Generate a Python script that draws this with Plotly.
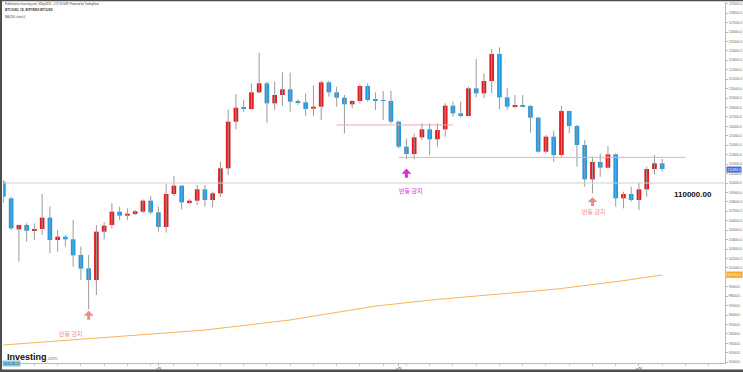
import plotly.graph_objects as go
import pandas as pd

# ---------------- data (daily BTC/USD candles) ----------------
start_date = "2025-06-11"
n_days = 86
dates = pd.date_range(start_date, periods=n_days, freq="D")

opens = [110141, 108375, 105089, 105548, 104947, 105124, 106325, 103958, 104312, 104029,
         102368, 100955, 99718, 104842, 105548, 106962, 106538, 106715, 106962, 108127,
         106891, 105336, 108834, 109717, 107951, 108127, 109329, 108198, 108905, 111555,
         116501, 117985, 117844, 119611, 120565, 118445, 119328, 119929, 118692, 118551,
         117879, 118091, 120671, 119611, 119045, 118339, 118692, 120282, 118869, 118798,
         118692, 116501, 113851, 113074, 114840, 115689, 114629, 115689, 118197, 117385,
         117102, 120035, 119505, 120812, 123674, 119081, 118091, 118233, 118162, 116925,
         113321, 114911, 112968, 117632, 116042, 114028, 110389, 112226, 111625, 113039,
         108375, 108834, 108198, 109329, 111484, 112085]
closes = [108551, 105195, 105548, 104947, 105124, 106325, 103958, 104312, 104029, 102333,
          100920, 99718, 104842, 105478, 106962, 106538, 106750, 106997, 108127, 106891,
          105336, 108834, 109717, 107951, 108127, 109329, 108198, 108905, 111555, 116501,
          117985, 117879, 119611, 120565, 118445, 119328, 119929, 118622, 118551, 117844,
          118091, 120671, 119611, 119045, 118339, 118692, 120282, 118798, 118763, 118692,
          116501, 113851, 113074, 114840, 115689, 114629, 115618, 118197, 117385, 117102,
          120035, 119505, 120812, 123674, 119081, 118091, 118233, 118127, 116925, 113321,
          114911, 112968, 117632, 116042, 114028, 110389, 112226, 111625, 113039, 108375,
          108834, 108198, 109329, 111484, 112085, 111484]
highs = [110318, 108551, 105600, 105725, 105725, 108834, 107491, 105018, 104488, 106078,
         103251, 102368, 105548, 105831, 107845, 107491, 107315, 107138, 108268, 108622,
         107491, 109894, 110742, 109788, 108268, 109788, 109788, 109081, 112261, 117809,
         119434, 118798, 120565, 123815, 120741, 120741, 121731, 121695, 118869, 119505,
         120353, 120847, 120847, 120211, 119328, 118798, 120459, 120565, 119611, 119752,
         119787, 116607, 114699, 115265, 116325, 116325, 116325, 118445, 118622, 118622,
         120211, 123144, 121625, 124204, 124381, 120035, 119328, 119328, 118268, 117031,
         115088, 115547, 118162, 117667, 116148, 114558, 112791, 113145, 113922, 113145,
         109081, 109611, 110035, 111731, 112968, 112544]
lows = [107880, 105018, 101661, 103782, 103958, 104488, 102545, 102722, 103251, 101132,
        99718, 96609, 98128, 104029, 105195, 106078, 106078, 106609, 106785, 106679,
        104842, 104735, 108622, 107209, 107774, 107668, 107491, 107421, 108551, 110848,
        115689, 117561, 117738, 119505, 116395, 117738, 118162, 117561, 118268, 117102,
        117102, 116678, 119151, 118091, 115265, 117915, 118445, 118622, 117738, 116678,
        116325, 113675, 112509, 112509, 114558, 112968, 113851, 114911, 117031, 116961,
        117031, 119081, 118975, 119505, 117809, 117738, 117915, 118091, 115335, 113215,
        113145, 112261, 112791, 115265, 111731, 109611, 108905, 110671, 111555, 107491,
        107315, 108021, 107138, 108551, 110919, 111201]
ma200 = [92830, 92890, 92950, 93010, 93070, 93130, 93190, 93250, 93310, 93370, 93430, 93500, 93570,
         93630, 93690, 93740, 93800, 93860, 93910, 93970, 94030, 94080, 94140, 94200, 94250, 94310,
         94410, 94510, 94600, 94700, 94800, 94890, 94990, 95090, 95190, 95280, 95380, 95480,
         95620, 95760, 95890, 96030, 96170, 96310, 96440, 96580, 96720, 96860,
         96950, 97040, 97140, 97230, 97320, 97410, 97500, 97600,
         97670, 97730, 97800, 97860, 97930, 97990, 98060, 98120, 98190, 98250, 98320, 98380, 98450,
         98540, 98640, 98730, 98820, 98920, 99010, 99110, 99200, 99290,
         99410, 99530, 99650, 99770, 99890, 100010, 100130, 100250]

key_level = 110000
resist_1 = 116150
resist_1_span = ("2025-07-24", "2025-08-08")
resist_2 = 112720
resist_2_span = ("2025-08-01", "2025-09-07")

signal_label = "반등 감지"
signals = [  # (date, arrow tip price, colour)
    ("2025-06-22", 96450, "#ef8a8a"),
    ("2025-08-02", 111500, "#e626e6"),
    ("2025-08-26", 108500, "#ef8a8a"),
]
tick_dates = ["2025-07-01", "2025-08-01", "2025-09-01"]
tick_text = ["7월", "8월", "9월"]

header_lines = [
    "Published on Investing.com, 5/Sep/2025 - 2:27:43 GMT, Powered by TradingView.",
    "<b>BTC/USD, 1D, BITFINEX:BTCUSD</b>",
    "MA (200, close) 0",
]

# ---------------- figure ----------------
UP, DOWN, WICK = "#e3191c", "#1f9be6", "#9b9b9b"
W, H = 743, 372
ML, MR, MT, MB = 3, 18, 2, 9
PW, PH = W - ML - MR, H - MT - MB


def px_x(px):
    return (px - ML) / PW


def px_y(py):
    return (H - MB - py) / PH


day = pd.Timedelta(days=1)
body_base = [min(o, c) for o, c in zip(opens, closes)]
body_h = [max(abs(c - o), 60) for o, c in zip(opens, closes)]
body_col = [UP if c >= o else DOWN for o, c in zip(opens, closes)]

wx, wy = [], []
for d, hi, lo in zip(dates, highs, lows):
    wx += [d, d, None]
    wy += [lo, hi, None]

fig = go.Figure()
fig.add_trace(go.Scatter(x=dates, y=ma200, mode="lines",
                         line=dict(color="#f7b45a", width=1), hoverinfo="skip"))
fig.add_trace(go.Scatter(x=wx, y=wy, mode="lines",
                         line=dict(color=WICK, width=1), hoverinfo="skip"))
fig.add_trace(go.Bar(x=dates, y=body_h, base=body_base, width=0.6 * 86400000,
                     marker=dict(color=body_col, line=dict(width=0))))

shapes = [
    dict(type="line", xref="paper", yref="y", x0=0, x1=1, y0=key_level, y1=key_level,
         line=dict(color="#cfcfcf", width=1)),
    dict(type="line", xref="x", yref="y", x0=resist_1_span[0], x1=resist_1_span[1],
         y0=resist_1, y1=resist_1, line=dict(color="#f4a9a9", width=1)),
    dict(type="line", xref="x", yref="y", x0=resist_2_span[0], x1=resist_2_span[1],
         y0=resist_2, y1=resist_2, line=dict(color="#f4a9a9", width=1)),
    # frame
    dict(type="rect", xref="paper", yref="paper", x0=px_x(0), x1=px_x(2), y0=px_y(372), y1=px_y(0),
         fillcolor="#4d4d4d", line=dict(width=0), layer="above"),
    dict(type="rect", xref="paper", yref="paper", x0=px_x(0), x1=px_x(743), y0=px_y(1.2), y1=px_y(0),
         fillcolor="#4d4d4d", line=dict(width=0), layer="above"),
    dict(type="rect", xref="paper", yref="paper", x0=px_x(0), x1=px_x(743), y0=px_y(372), y1=px_y(369.5),
         fillcolor="#4d4d4d", line=dict(width=0), layer="above"),
]

ann = []
for d, tip, col in signals:
    ts = pd.Timestamp(d)
    ann.append(dict(x=ts, y=tip, xref="x", yref="y", ax=ts, ay=tip - 1100,
                    axref="x", ayref="y", text="", showarrow=True, arrowhead=1,
                    arrowsize=0.55, arrowwidth=3, arrowcolor=col, standoff=0, startstandoff=0))
ann.append(dict(x=pd.Timestamp("2025-06-19") + 0.7 * day, y=94100, xref="x", yref="y",
                text=signal_label, showarrow=False,
                font=dict(size=6, color="#ef8a8a", family="Noto Sans CJK KR")))
ann.append(dict(x=pd.Timestamp("2025-08-02") + 0.5 * day, y=109250, xref="x", yref="y",
                text=signal_label, showarrow=False,
                font=dict(size=6, color="#e626e6", family="Noto Sans CJK KR")))
ann.append(dict(x=pd.Timestamp("2025-08-26") + 0.1 * day, y=106930, xref="x", yref="y",
                text=signal_label, showarrow=False,
                font=dict(size=6, color="#ef8a8a", family="Noto Sans CJK KR")))
ann.append(dict(x=px_x(714), y=key_level, xref="paper", yref="y", yshift=-11,
                xanchor="right", text="<b>110000.00</b>", showarrow=False,
                font=dict(size=8, color="#111111", family="Liberation Sans")))
# price tags on axis
ann.append(dict(x=px_x(726), y=closes[-1], xref="paper", yref="y", xanchor="left",
                text="%.1f" % closes[-1], showarrow=False, bgcolor="#3d6fdc",
                font=dict(size=3.2, color="white", family="Liberation Sans"),
                borderpad=0.6))
ann.append(dict(x=px_x(726), y=ma200[-1], xref="paper", yref="y", xanchor="left",
                text="%.1f" % ma200[-1], showarrow=False, bgcolor="#f5a623",
                font=dict(size=3.2, color="white", family="Liberation Sans"),
                borderpad=0.6))
ann.append(dict(x=px_x(2), y=px_y(367), xref="paper", yref="paper", xanchor="left",
                text=start_date, showarrow=False, bgcolor="#86cbe6",
                font=dict(size=3.2, color="#1a3a4a", family="Liberation Sans"),
                borderpad=0.6))
# header
for i, (t, py) in enumerate(zip(header_lines, [4, 10, 17])):
    ann.append(dict(x=px_x(3), y=px_y(py), xref="paper", yref="paper", xanchor="left",
                    yanchor="middle", text=t, showarrow=False,
                    font=dict(size=2.6 if i != 1 else 3.0, color="#333333",
                              family="Liberation Sans")))
# logo
ann.append(dict(x=px_x(5), y=px_y(357), xref="paper", yref="paper", xanchor="left",
                yanchor="middle", showarrow=False,
                text="<b>Investing</b><span style='font-size:5px;color:#888888'>.com</span>",
                font=dict(size=9, color="#111111", family="Liberation Sans")))

x_lo = pd.Timestamp(start_date) - 0.05 * day
x_hi = pd.Timestamp(start_date) + 93.1 * day

fig.update_layout(
    width=W, height=H, margin=dict(l=ML, r=MR, t=MT, b=MB, autoexpand=False),
    paper_bgcolor="white", plot_bgcolor="white", showlegend=False,
    barmode="overlay", shapes=shapes, annotations=ann,
    xaxis=dict(type="date", range=[x_lo, x_hi], showgrid=False, zeroline=False,
               tickvals=[pd.Timestamp(d) for d in tick_dates], ticktext=tick_text,
               tickfont=dict(size=4, color="#555555", family="Noto Sans CJK KR"),
               ticks="outside", ticklen=2, tickcolor="#bbbbbb",
               showline=True, linecolor="#bbbbbb", linewidth=1,
               minor=dict(ticks="outside", ticklen=2, tickcolor="#cccccc", dtick=3 * 86400000),
               fixedrange=True, automargin=False),
    yaxis=dict(side="right", range=[90920, 129186], dtick=1000, tick0=0,
               tickformat=".1f", showgrid=False, zeroline=False,
               tickfont=dict(size=3.2, color="#666666", family="Liberation Sans"),
               ticks="outside", ticklen=2, tickcolor="#bbbbbb",
               showline=True, linecolor="#bbbbbb", linewidth=1,
               fixedrange=True, automargin=False),
)

fig.write_html(
    "out.html",
    config={"displayModeBar": False},
    post_script="document.body.style.margin='0';document.body.style.padding='0';"
                "document.documentElement.style.overflow='hidden';",
)
